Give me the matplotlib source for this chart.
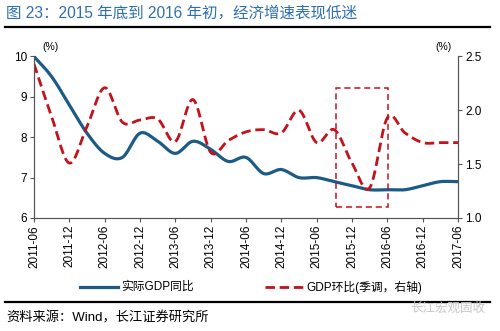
import numpy as np
import matplotlib
matplotlib.use("Agg")
import matplotlib.pyplot as plt
from matplotlib.patches import Rectangle

plt.rcParams['font.family'] = ['Liberation Sans', 'Noto Sans CJK SC']

# quarterly, 2011Q2 .. 2017Q2
quarters = ["2011-06", "2011-09", "2011-12", "2012-03", "2012-06", "2012-09", "2012-12",
            "2013-03", "2013-06", "2013-09", "2013-12", "2014-03", "2014-06", "2014-09",
            "2014-12", "2015-03", "2015-06", "2015-09", "2015-12", "2016-03", "2016-06",
            "2016-09", "2016-12", "2017-03", "2017-06"]
gdp_yoy = [10.0, 9.5, 8.8, 8.1, 7.6, 7.5, 8.1, 7.9, 7.6, 7.9, 7.7, 7.4, 7.5,
           7.1, 7.2, 7.0, 7.0, 6.9, 6.8, 6.7, 6.7, 6.7, 6.8, 6.9, 6.9]
gdp_qoq = [2.43, 1.94, 1.51, 1.85, 2.21, 1.89, 1.91, 1.92, 1.71, 2.10, 1.61, 1.72, 1.80,
           1.82, 1.79, 2.00, 1.70, 1.82, 1.51, 1.28, 1.93, 1.79, 1.70, 1.70, 1.70]
tick_labels = quarters[::2]

blue = "#1b5b86"
red = "#c3121c"


def smooth(y, n=16):
    # Catmull-Rom spline through the points, like Excel's smoothed line
    y = np.asarray(y, dtype=float)
    p = np.concatenate([[2 * y[0] - y[1]], y, [2 * y[-1] - y[-2]]])
    xs, ys = [], []
    t = np.linspace(0, 1, n, endpoint=False)
    for i in range(len(y) - 1):
        p0, p1, p2, p3 = p[i], p[i + 1], p[i + 2], p[i + 3]
        seg = 0.5 * ((2 * p1) + (-p0 + p2) * t + (2 * p0 - 5 * p1 + 4 * p2 - p3) * t ** 2
                     + (-p0 + 3 * p1 - 3 * p2 + p3) * t ** 3)
        xs.append(i + t)
        ys.append(seg)
    xs.append([len(y) - 1])
    ys.append([y[-1]])
    return np.concatenate(xs), np.concatenate(ys)


fig = plt.figure(figsize=(5, 3.31), dpi=100)
ax = fig.add_axes([0.068, 0.3414, 0.848, 0.488])
ax2 = ax.twinx()

x = np.arange(len(quarters))
sx, sy = smooth(gdp_yoy)
ax.plot(sx, sy, color=blue, lw=2.3, solid_capstyle='butt', zorder=3)
rx, ry = smooth(gdp_qoq)
ax2.plot(rx, ry, color=red, lw=2.0, dashes=(3.4, 1.7))

ax2.add_patch(Rectangle((17.1, 1.10), 20.03 - 17.1, 2.21 - 1.10, fill=False,
                        ec=red, lw=1.1, ls=(0, (4, 2.5))))

ax.set_xlim(0, len(quarters) - 1)
ax.set_ylim(6, 10)
ax2.set_ylim(1.0, 2.5)
ax.set_yticks([6, 7, 8, 9, 10])
ax2.set_yticks([1.0, 1.5, 2.0, 2.5])
ax2.set_yticklabels(["1.0", "1.5", "2.0", "2.5"])
ax.set_xticks(x[::2])
ax.set_xticklabels(tick_labels, rotation=90, fontsize=8)

for a in (ax, ax2):
    a.spines['top'].set_visible(False)
    for s in ('left', 'right', 'bottom'):
        a.spines[s].set_color('#555555')
        a.spines[s].set_linewidth(0.8)
    a.tick_params(labelsize=8.5, length=3, width=0.8, color='#555555', pad=2)
ax.tick_params(axis='x', length=3, pad=2)

ax.text(0.02, 1.03, "(%)", transform=ax.transAxes, fontsize=7.5, ha='left', va='bottom')
ax.text(0.985, 1.03, "(%)", transform=ax.transAxes, fontsize=7.5, ha='right', va='bottom')

# legend
fig.lines.append(plt.Line2D([0.16, 0.236], [0.133, 0.133], color=blue, lw=2.3,
                            transform=fig.transFigure))
fig.text(0.243, 0.133, "实际GDP同比", fontsize=8.5, va='center')
fig.lines.append(plt.Line2D([0.53, 0.606], [0.133, 0.133], color=red, lw=2.0,
                            dashes=(3.4, 1.7), transform=fig.transFigure))
fig.text(0.613, 0.133, "GDP环比(季调，右轴)", fontsize=8.5, va='center')

# title and rules
fig.text(0.012, 0.96, "图 23：2015 年底到 2016 年初，经济增速表现低迷", fontsize=11.2,
         color="#2f6fae", va='center')
fig.lines.append(plt.Line2D([0.01, 0.98], [0.9175, 0.9175], color='black', lw=1.6,
                            transform=fig.transFigure))
fig.lines.append(plt.Line2D([0.01, 0.98], [0.0886, 0.0886], color='black', lw=1.6,
                            transform=fig.transFigure))
fig.text(0.012, 0.039, "资料来源：Wind，长江证券研究所", fontsize=9.5, va='center')
fig.text(0.97, 0.069, "长江宏观固收", fontsize=9, color='#c8c8c8', ha='right', va='center')

fig.savefig("out.png", dpi=100)
